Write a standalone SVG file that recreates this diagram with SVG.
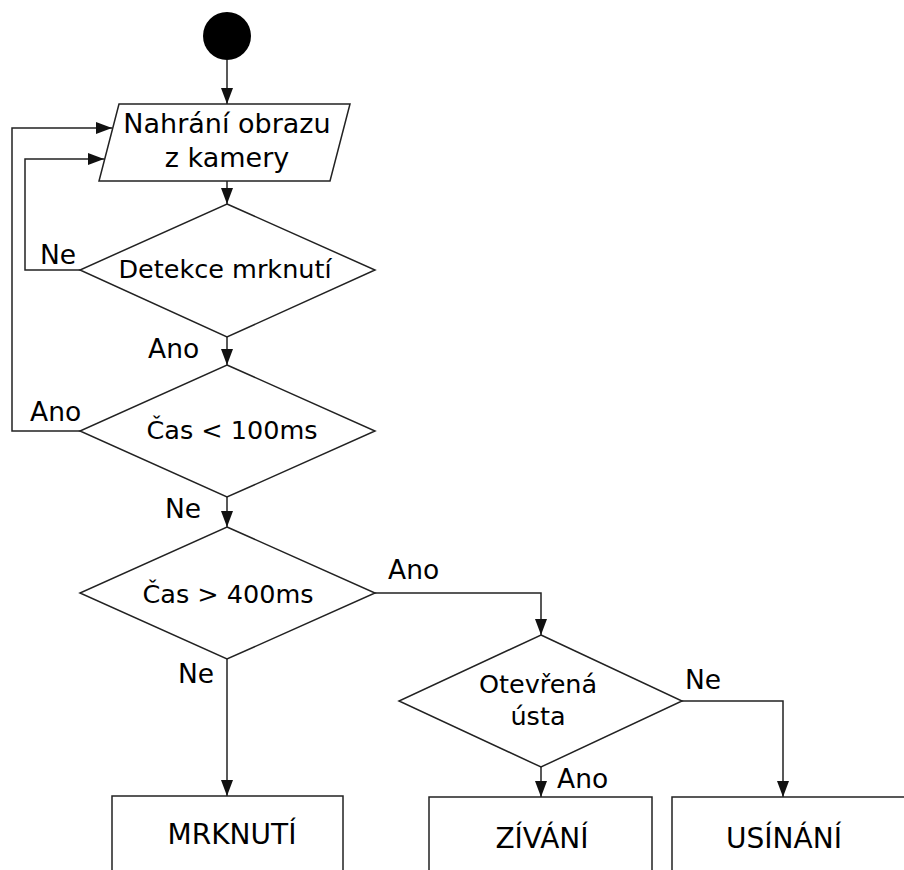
<svg xmlns="http://www.w3.org/2000/svg" width="904" height="870" viewBox="0 0 904 870">
<style>
.shape{fill:#fff;stroke:#222;stroke-width:1.5}
.conn{fill:none;stroke:#222;stroke-width:1.5}
text{font-family:"DejaVu Sans","Liberation Sans",sans-serif;fill:#000}
.t{font-size:25.5px;text-anchor:middle}
.p{font-size:27px;text-anchor:middle}
.b{font-size:28px;text-anchor:middle}
.l{font-size:26.5px}
</style>
<defs>
<marker id="ah" markerWidth="16" markerHeight="12" refX="16" refY="6" orient="auto" markerUnits="userSpaceOnUse">
<path d="M0,0 L16,6 L0,12 Z" fill="#111"/>
</marker>
</defs>
<rect width="904" height="870" fill="#fff"/>
<g id="connectors">
<path class="conn" d="M227,60 V104" marker-end="url(#ah)"/>
<path class="conn" d="M227,181 V204" marker-end="url(#ah)"/>
<path class="conn" d="M80,270 H25 V159 H104" marker-end="url(#ah)"/>
<path class="conn" d="M227,337 V365" marker-end="url(#ah)"/>
<path class="conn" d="M80,431 H12 V128 H112" marker-end="url(#ah)"/>
<path class="conn" d="M227,497 V527" marker-end="url(#ah)"/>
<path class="conn" d="M375,593 H541 V635" marker-end="url(#ah)"/>
<path class="conn" d="M227,659 V796" marker-end="url(#ah)"/>
<path class="conn" d="M541,767 V797" marker-end="url(#ah)"/>
<path class="conn" d="M682,701 H783 V797" marker-end="url(#ah)"/>
</g>
<g id="labels">
<text class="l" x="40" y="264">Ne</text>
<text class="l" x="148" y="358">Ano</text>
<text class="l" x="30" y="421">Ano</text>
<text class="l" x="165" y="518">Ne</text>
<text class="l" x="388" y="579">Ano</text>
<text class="l" x="178" y="683">Ne</text>
<text class="l" x="685" y="689">Ne</text>
<text class="l" x="557" y="788">Ano</text>
</g>
<g id="start">
<circle cx="227" cy="36" r="24" fill="#000"/>
</g>
<g id="load">
<polygon class="shape" points="119,104 350,104 330,181 99,181"/>
<text class="p" x="227" y="133">Nahrání obrazu</text>
<text class="p" x="227" y="167">z kamery</text>
</g>
<g id="detect">
<polygon class="shape" points="227,204 375,270 227,337 80,270"/>
<text class="t" x="225" y="278">Detekce mrknutí</text>
</g>
<g id="lt100">
<polygon class="shape" points="227,365 375,431 227,497 80,431"/>
<text class="t" x="232" y="439">Čas &lt; 100ms</text>
</g>
<g id="gt400">
<polygon class="shape" points="227,527 375,593 227,659 80,593"/>
<text class="t" x="228" y="603">Čas &gt; 400ms</text>
</g>
<g id="mouth">
<polygon class="shape" points="541,635 682,701 541,767 399,701"/>
<text class="t" x="538" y="693">Otevřená</text>
<text class="t" x="538" y="725">ústa</text>
</g>
<g id="blink">
<rect class="shape" x="112" y="796" width="231" height="100"/>
<text class="b" x="232" y="844">MRKNUTÍ</text>
</g>
<g id="yawn">
<rect class="shape" x="429" y="797" width="223" height="100"/>
<text class="b" x="542" y="848">ZÍVÁNÍ</text>
</g>
<g id="sleep">
<rect class="shape" x="672" y="797" width="260" height="100"/>
<text class="b" x="784" y="848">USÍNÁNÍ</text>
</g>
</svg>
